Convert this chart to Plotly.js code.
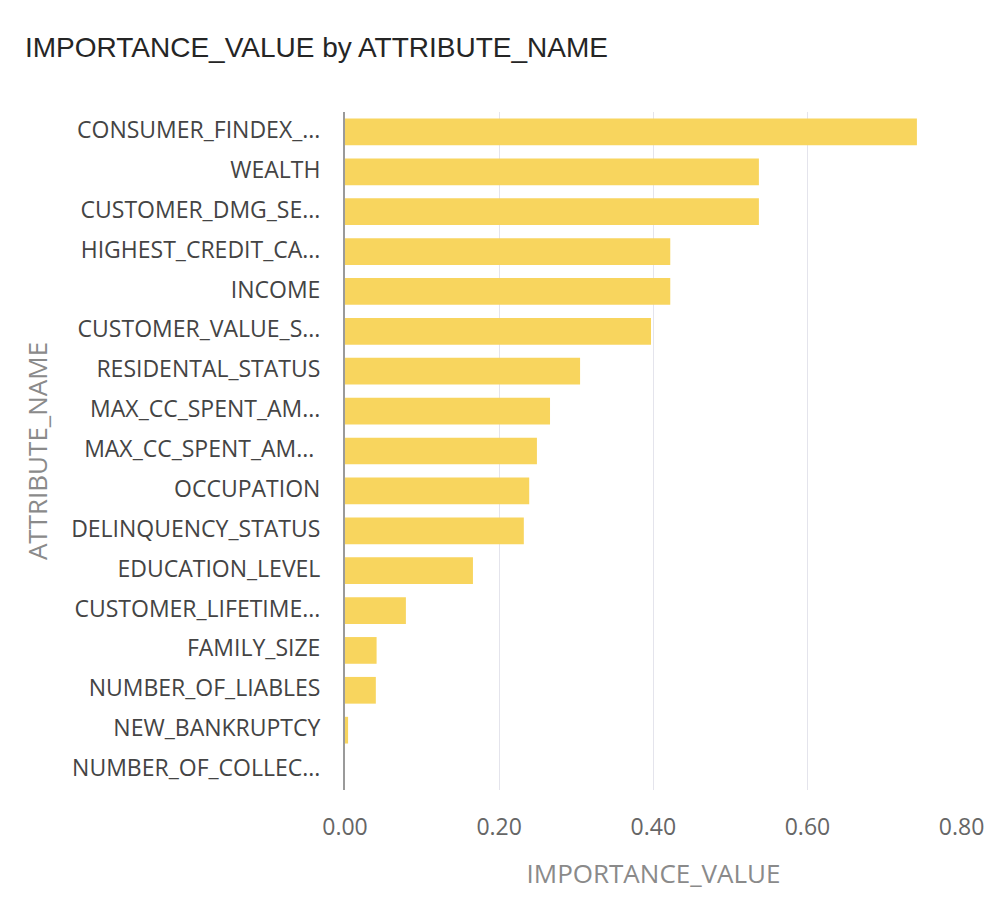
<!DOCTYPE html>
<html>
<head>
<meta charset="utf-8">
<script src="https://cdn.plot.ly/plotly-3.0.1.min.js"></script>
<style>
  html, body { margin: 0; padding: 0; background: #ffffff; }
  #chart { width: 998px; height: 908px; }
</style>
</head>
<body>
<div id="chart"></div>
<script>
// Attribute names, top to bottom
const attributeNames = [
  "CONSUMER_FINDEX_...",
  "WEALTH",
  "CUSTOMER_DMG_SE...",
  "HIGHEST_CREDIT_CA...",
  "INCOME",
  "CUSTOMER_VALUE_S...",
  "RESIDENTAL_STATUS",
  "MAX_CC_SPENT_AM...",
  "MAX_CC_SPENT_AM... ",
  "OCCUPATION",
  "DELINQUENCY_STATUS",
  "EDUCATION_LEVEL",
  "CUSTOMER_LIFETIME...",
  "FAMILY_SIZE",
  "NUMBER_OF_LIABLES",
  "NEW_BANKRUPTCY",
  "NUMBER_OF_COLLEC..."
];

// Importance value for each attribute
const importanceValues = [
  0.742, 0.537, 0.537, 0.422, 0.422, 0.397, 0.305, 0.266, 0.249,
  0.239, 0.232, 0.166, 0.079, 0.041, 0.040, 0.004, 0.0
];

const xTickValues = [0, 0.2, 0.4, 0.6, 0.8];
const xTickLabels = ["0.00", "0.20", "0.40", "0.60", "0.80"];

const labelFont = "'Open Sans', 'Noto Sans', 'DejaVu Sans', sans-serif";

const trace = {
  type: "bar",
  orientation: "h",
  x: importanceValues,
  y: attributeNames,
  marker: { color: "#F8D55E", line: { width: 0 } },
  hoverinfo: "x+y"
};

const layout = {
  width: 998,
  height: 908,
  paper_bgcolor: "#ffffff",
  plot_bgcolor: "#ffffff",
  margin: { l: 345, r: 36, t: 112, b: 118 },
  bargap: 0.33,
  showlegend: false,
  title: {
    text: "IMPORTANCE_VALUE by ATTRIBUTE_NAME",
    x: 25 / 998,
    xanchor: "left",
    xref: "container",
    y: 1 - 47 / 908,
    yanchor: "middle",
    yref: "container",
    font: { family: "'Liberation Sans', Arial, sans-serif", size: 28, color: "#252525" }
  },
  xaxis: {
    range: [0, 0.8005],
    tickvals: xTickValues,
    ticktext: xTickLabels,
    showgrid: true,
    gridcolor: "#e4e4ec",
    gridwidth: 1,
    zeroline: false,
    showline: false,
    ticks: "",
    ticklabelstandoff: 21,
    tickfont: { family: labelFont, size: 23, color: "#666666" },
    title: {
      text: "IMPORTANCE_VALUE",
      standoff: 23,
      font: { family: labelFont, size: 26, color: "#8a8a8a" }
    },
    fixedrange: true
  },
  yaxis: {
    autorange: "reversed",
    type: "category",
    showgrid: false,
    zeroline: false,
    showline: true,
    linecolor: "#9a9a9a",
    linewidth: 2,
    ticks: "",
    ticklabelstandoff: 18,
    ticklabelshift: 2,
    tickfont: { family: labelFont, size: 23, color: "#444444" },
    title: {
      text: "ATTRIBUTE_NAME",
      standoff: 16,
      font: { family: labelFont, size: 26, color: "#8a8a8a" }
    },
    fixedrange: true
  }
};

Plotly.newPlot("chart", [trace], layout, { displayModeBar: false, staticPlot: true });
</script>
</body>
</html>
